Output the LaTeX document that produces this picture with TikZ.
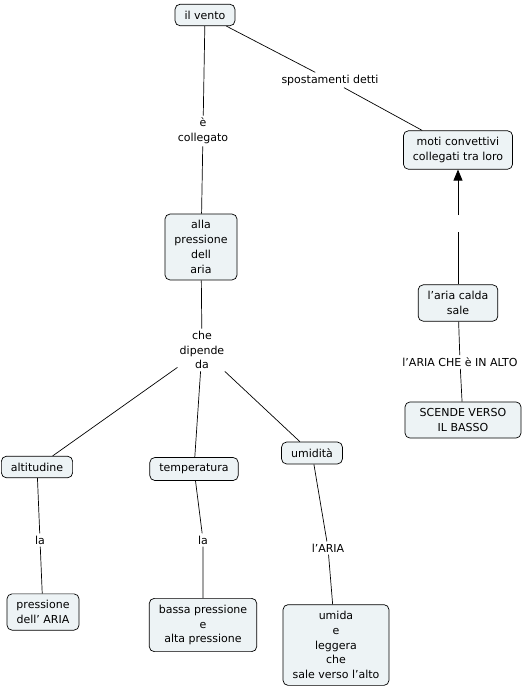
\documentclass[tikz,border=0pt]{standalone}
\usepackage{fontspec}
\setmainfont{DejaVu Sans}
\usetikzlibrary{arrows.meta}

\definecolor{conceptfill}{RGB}{237,243,245}

\begin{document}
\begin{tikzpicture}[
  x=1pt, y=-1pt,
  concept/.style={draw, rounded corners=5pt, fill=conceptfill, align=center,
    inner xsep=9.5pt, inner ysep=6.5pt, font=\fontsize{11}{14.8}\selectfont},
  linkword/.style={align=center, inner sep=2pt, font=\fontsize{11}{14.8}\selectfont},
  every path/.style={line width=0.7pt}
]
  \useasboundingbox (0,0) rectangle (530,689);

  % concetti
  \node[concept] (vento) at (205,15) {il vento};
  \node[concept] (moti) at (458,150) {moti convettivi\\collegati tra loro};
  \node[concept] (pressione) at (201,247) {alla\\pressione\\dell\\aria};
  \node[concept] (altitudine) at (37,467) {altitudine};
  \node[concept] (temperatura) at (194,469) {temperatura};
  \node[concept] (umidita) at (312,453) {umidità};
  \node[concept] (pressaria) at (43,612) {pressione\\dell' ARIA};
  \node[concept] (bassa) at (203,625) {bassa pressione\\e\\alta pressione};
  \node[concept] (umida) at (336,645) {umida\\e\\leggera\\che\\sale verso l'alto};
  \node[concept] (calda) at (458,303) {l'aria calda\\sale};
  \node[concept, minimum width=116pt] (scende) at (463,420) {SCENDE VERSO\\IL BASSO};

  % parole legame
  \node[linkword] (spost) at (330,80) {spostamenti detti};
  \node[linkword] (collegato) at (203,131) {è\\collegato};
  \node[linkword] (dipende) at (202,350) {che\\dipende\\da};
  \node[linkword] (la1) at (40,540) {la};
  \node[linkword] (la2) at (203,540) {la};
  \node[linkword] (laria) at (328,548) {l'ARIA};
  \node[linkword] (inalto) at (460,362) {l'ARIA CHE è IN ALTO};
  \coordinate (gapbot) at (458,232);
  \coordinate (gaptop) at (458,215);

  % collegamenti
  \draw (vento) -- (collegato) -- (pressione);
  \draw (vento) -- (spost) -- (moti);
  \draw (pressione) -- (dipende);
  \draw (dipende) -- (altitudine);
  \draw (dipende) -- (temperatura);
  \draw (dipende) -- (umidita);
  \draw (altitudine) -- (la1) -- (pressaria);
  \draw (temperatura) -- (la2) -- (bassa);
  \draw (umidita) -- (laria) -- (umida);
  \draw (calda) -- (gapbot);
  \draw[-{Triangle[length=11pt,width=9pt]}] (gaptop) -- (moti);
  \draw (calda) -- (inalto) -- (scende);
\end{tikzpicture}
\end{document}
